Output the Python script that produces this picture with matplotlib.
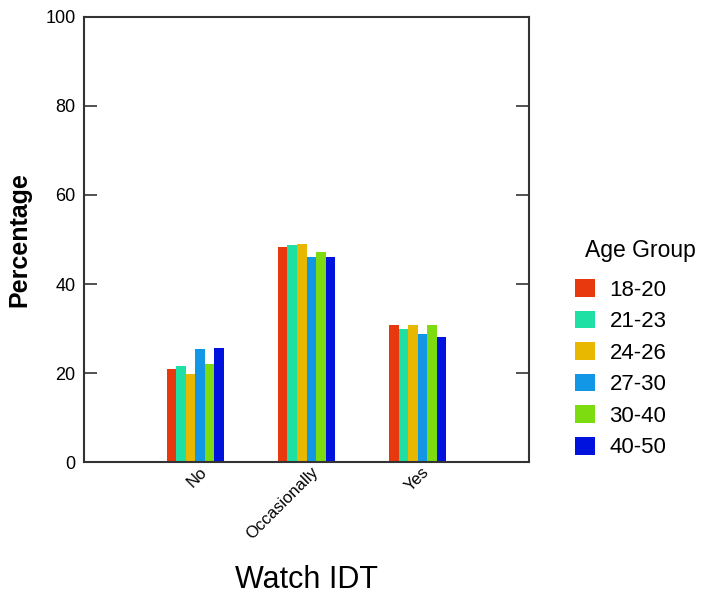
import numpy as np
import matplotlib.pyplot as plt
import matplotlib.transforms as mtransforms

plt.rcParams['font.family'] = ['Liberation Sans', 'DejaVu Sans']

# Data
categories = ['No', 'Occasionally', 'Yes']
age_groups = ['18-20', '21-23', '24-26', '27-30', '30-40', '40-50']
values = {
    '18-20': [21.0, 48.4, 30.9],
    '21-23': [21.6, 48.7, 29.9],
    '24-26': [19.8, 49.0, 30.9],
    '27-30': [25.3, 46.1, 28.8],
    '30-40': [22.0, 47.2, 30.9],
    '40-50': [25.6, 46.1, 28.2],
}
colors = ['#E8380D', '#1EE0A4', '#E8B800', '#1296E6', '#7CDC10', '#0012DE']

fig = plt.figure(figsize=(7.12, 5.94), dpi=100)
ax = fig.add_axes([0.118, 0.2222, 0.625, 0.7492])

x = np.arange(1, len(categories) + 1)
width = 0.086
n = len(age_groups)
for i, grp in enumerate(age_groups):
    ax.bar(x + (i - (n - 1) / 2) * width, values[grp], width,
           color=colors[i], label=grp)

ax.set_xlim(0, 4)
ax.set_ylim(0, 100)
ax.set_yticks([0, 20, 40, 60, 80, 100])
ax.tick_params(axis='y', direction='in', length=9.5, width=1.2, color='#333333',
               labelsize=13, right=True, pad=6)
ax.set_xticks(x)
ax.set_xticklabels(categories, rotation=45, ha='right', rotation_mode='anchor',
                   fontsize=12)
ax.tick_params(axis='x', length=0, pad=2)
offset = mtransforms.ScaledTranslation(4 / 100, 0, fig.dpi_scale_trans)
for lbl in ax.get_xticklabels():
    lbl.set_transform(lbl.get_transform() + offset)

for sp in ax.spines.values():
    sp.set_color('#333333')
    sp.set_linewidth(1.5)

ax.set_ylabel('Percentage', fontsize=18, fontweight='bold', labelpad=10)
ax.set_xlabel('Watch IDT', fontsize=22, labelpad=16)

# legend title placed separately (it sits right of the colour squares)
fig.text(585 / 712, 1 - 250.7 / 594, 'Age Group', fontsize=16.5,
         ha='left', va='center')
leg = ax.legend(loc='upper left', bbox_to_anchor=(575 / 712, 1 - 279 / 594),
                bbox_transform=fig.transFigure, frameon=False, fontsize=16,
                handlelength=0.9, handleheight=0.85, borderpad=0,
                borderaxespad=0, labelspacing=0.45, handletextpad=0.65)

fig.savefig('out.png', dpi=100)
